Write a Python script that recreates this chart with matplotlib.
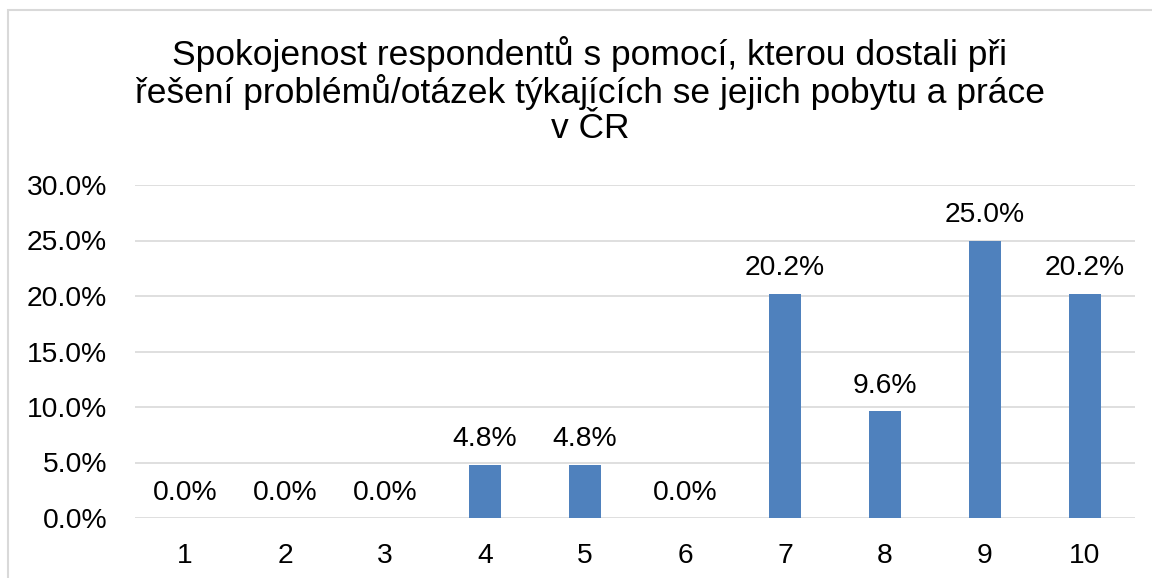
import matplotlib.pyplot as plt
from matplotlib.patches import Rectangle

plt.rcParams['font.family'] = ['Liberation Sans', 'DejaVu Sans']

# data
kategorie = ["1", "2", "3", "4", "5", "6", "7", "8", "9", "10"]
podil = [0.0, 0.0, 0.0, 4.8, 4.8, 0.0, 20.2, 9.6, 25.0, 20.2]
y_ticks = [0, 5, 10, 15, 20, 25, 30]
titulek = ("Spokojenost respondentů s pomocí, kterou dostali při\n"
           "řešení problémů/otázek týkajících se jejich pobytu a práce\n"
           "v ČR")

fig = plt.figure(figsize=(11.52, 5.78), dpi=100)
ax = fig.add_axes([135/1152, 1 - 518/578, 1000/1152, 333/578])

x = list(range(len(kategorie)))
bars = ax.bar(x, podil, width=0.32, color="#4f81bd", zorder=3)

for xi, v in zip(x, podil):
    ax.annotate(f"{v:.1f}%", (xi, v), xytext=(0, 9), textcoords="offset points",
                ha="center", va="bottom", fontsize=20.3, color="#000000")

ax.set_xlim(-0.5, len(kategorie) - 0.5)
ax.set_ylim(0, 30)
ax.set_yticks(y_ticks)
ax.set_yticklabels([f"{t:.1f}%" for t in y_ticks])
ax.set_xticks(x)
ax.set_xticklabels(kategorie)
ax.tick_params(axis="both", length=0, labelsize=20.3, colors="#000000")
ax.tick_params(axis="y", pad=20)
ax.tick_params(axis="x", pad=18)
ax.grid(axis="y", color="#d9d9d9", linewidth=1.2, zorder=0)
for s in ax.spines.values():
    s.set_visible(False)

fig.text(590/1152, 1 - 36/578, titulek, ha="center", va="top",
         fontsize=25.5, linespacing=1.07)

# frame of the chart area
fig.add_artist(Rectangle((8/1152, -0.1), 1.2, 1 - 10/578 + 0.1,
                         transform=fig.transFigure, fill=False,
                         edgecolor="#d9d9d9", linewidth=1.5))

fig.savefig("out.png", dpi=100)
